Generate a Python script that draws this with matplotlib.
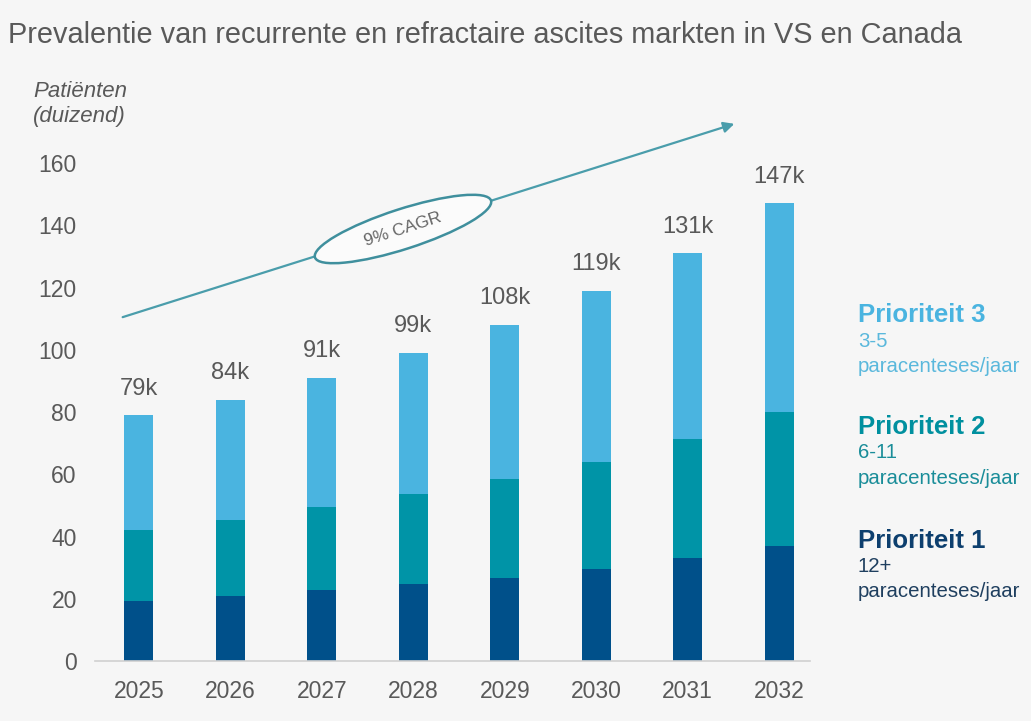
import matplotlib
matplotlib.use("Agg")
import matplotlib.pyplot as plt
from matplotlib.patches import Ellipse
import numpy as np

plt.rcParams['font.family'] = ['Liberation Sans', 'DejaVu Sans']

years = ["2025", "2026", "2027", "2028", "2029", "2030", "2031", "2032"]
prio1 = [19.4, 20.8, 22.8, 24.7, 26.6, 29.5, 33.1, 36.9]
prio2 = [22.7, 24.6, 26.7, 29.0, 32.0, 34.5, 38.2, 43.0]
prio3 = [36.9, 38.6, 41.5, 45.3, 49.4, 55.0, 59.7, 67.1]
total_labels = ["79k", "84k", "91k", "99k", "108k", "119k", "131k", "147k"]
yticks = [0, 20, 40, 60, 80, 100, 120, 140, 160]

c1, c2, c3 = "#00508a", "#0094a7", "#4ab4e0"
bg = "#f6f6f6"
gray = "#595959"

fig = plt.figure(figsize=(10.31, 7.21), dpi=100, facecolor=bg)
ax = fig.add_axes([0.092, 0.0832, 0.694, 0.6907], facecolor=bg)

x = np.arange(len(years))
w = 0.32
p1 = np.array(prio1); p2 = np.array(prio2); p3 = np.array(prio3)
ax.bar(x, p1, w, color=c1, zorder=2)
ax.bar(x, p2, w, bottom=p1, color=c2, zorder=2)
ax.bar(x, p3, w, bottom=p1 + p2, color=c3, zorder=2)
tot = p1 + p2 + p3
for xi, t, lab in zip(x, tot, total_labels):
    ax.text(xi, t + 5, lab, ha='center', va='bottom', fontsize=17, color=gray)

ax.set_xlim(-0.48, 7.34)
ax.set_ylim(0, 160)
ax.set_xticks(x)
ax.set_xticklabels(years)
ax.set_yticks(yticks)
ax.tick_params(axis='both', length=0, labelsize=16.5, labelcolor=gray)
ax.tick_params(axis='y', pad=13)
ax.tick_params(axis='x', pad=14)
for s in ['top', 'right', 'left']:
    ax.spines[s].set_visible(False)
ax.spines['bottom'].set_color('#d0d0d0')
ax.spines['bottom'].set_linewidth(1.2)

# Title and axis label
fig.text(0.008, 0.952, "Prevalentie van recurrente en refractaire ascites markten in VS en Canada",
         fontsize=20.8, color=gray, ha='left', va='center')
fig.text(0.032, 0.856, "Patiënten\n(duizend)", fontsize=16, color=gray, style='italic',
         ha='left', va='center', linespacing=1.25)

# CAGR arrow
tr = fig.dpi_scale_trans
ax.annotate("", xy=(7.37, 5.98), xytext=(1.20, 4.03), xycoords=tr, textcoords=tr,
            arrowprops=dict(arrowstyle='-|>', color='#4a9dab', lw=1.6, mutation_scale=16),
            annotation_clip=False)
ell = Ellipse((4.03, 4.92), 1.85, 0.40, angle=17.9, transform=tr,
              facecolor='#fbfbfb', edgecolor='#3f8f9d', lw=1.8, zorder=5)
fig.add_artist(ell)
fig.text(4.03 / 10.31, 4.92 / 7.21, "9% CAGR", rotation=17.9, fontsize=12.5, color='#666666',
         ha='center', va='center', rotation_mode='anchor', zorder=6)

# Legend texts
lx = 0.832
groups = [
    (0.563, "Prioriteit 3", "3-5", c3, "#5ab8dc"),
    (0.408, "Prioriteit 2", "6-11", "#00909f", "#1a8d99"),
    (0.250, "Prioriteit 1", "12+", "#0d3f6e", "#1f3f5f"),
]
for y0, head, rng, hc, sc in groups:
    fig.text(lx, y0, head, fontsize=18.5, fontweight='bold', color=hc, ha='left', va='center')
    fig.text(lx, y0 - 0.036, rng, fontsize=14.7, color=sc, ha='left', va='center')
    fig.text(lx, y0 - 0.071, "paracenteses/jaar", fontsize=14.7, color=sc, ha='left', va='center')

fig.savefig("out.png", dpi=100, facecolor=bg)
